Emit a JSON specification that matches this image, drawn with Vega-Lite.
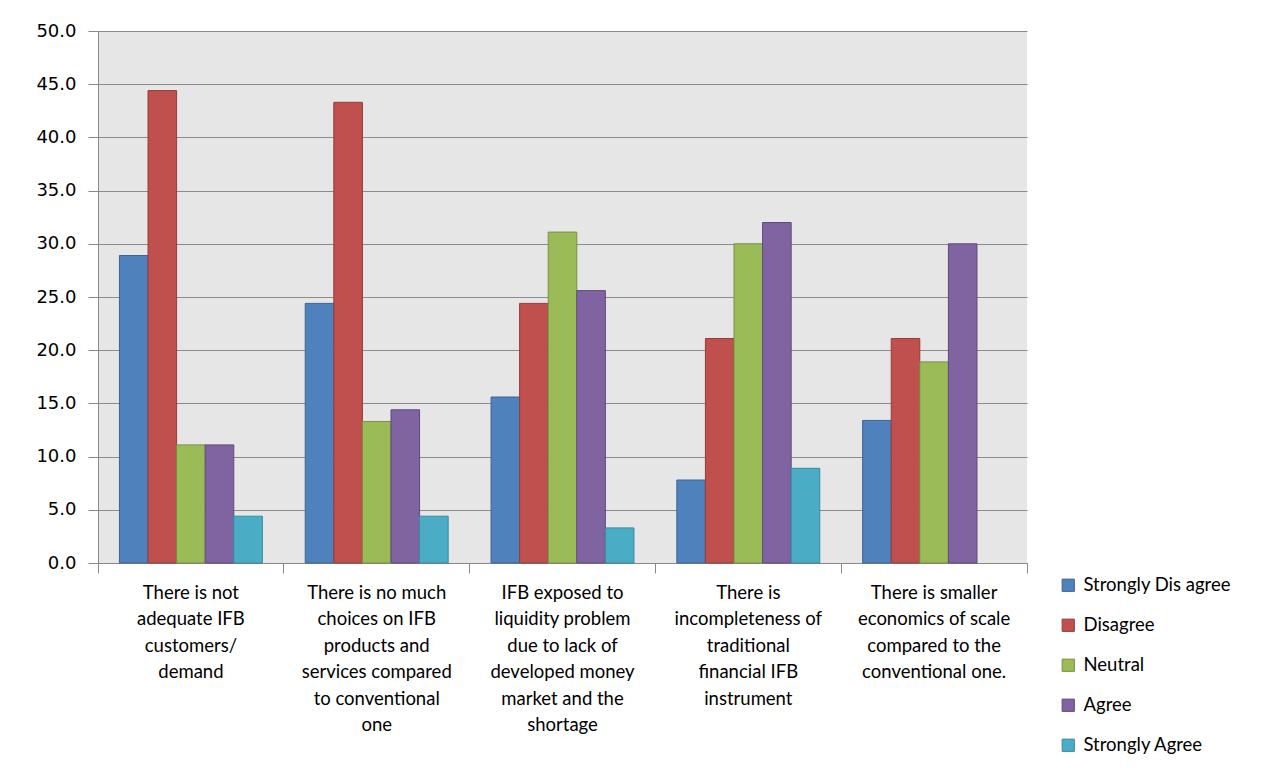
{
  "$schema": "https://vega.github.io/schema/vega-lite/v6.json",
  "autosize": "none",
  "width": 929,
  "height": 532,
  "padding": {"left": 98, "top": 31, "right": 260, "bottom": 205},
  "background": "white",
  "data": {
    "values": [
      {"statement": "There is not\nadequate IFB\ncustomers/\ndemand", "response": "Strongly Dis agree", "percent": 28.9},
      {"statement": "There is not\nadequate IFB\ncustomers/\ndemand", "response": "Disagree", "percent": 44.4},
      {"statement": "There is not\nadequate IFB\ncustomers/\ndemand", "response": "Neutral", "percent": 11.1},
      {"statement": "There is not\nadequate IFB\ncustomers/\ndemand", "response": "Agree", "percent": 11.1},
      {"statement": "There is not\nadequate IFB\ncustomers/\ndemand", "response": "Strongly Agree", "percent": 4.4},
      {"statement": "There is no much\nchoices on IFB\nproducts and\nservices compared\nto conventional\none", "response": "Strongly Dis agree", "percent": 24.4},
      {"statement": "There is no much\nchoices on IFB\nproducts and\nservices compared\nto conventional\none", "response": "Disagree", "percent": 43.3},
      {"statement": "There is no much\nchoices on IFB\nproducts and\nservices compared\nto conventional\none", "response": "Neutral", "percent": 13.3},
      {"statement": "There is no much\nchoices on IFB\nproducts and\nservices compared\nto conventional\none", "response": "Agree", "percent": 14.4},
      {"statement": "There is no much\nchoices on IFB\nproducts and\nservices compared\nto conventional\none", "response": "Strongly Agree", "percent": 4.4},
      {"statement": "IFB exposed to\nliquidity problem\ndue to lack of\ndeveloped money\nmarket and the\nshortage", "response": "Strongly Dis agree", "percent": 15.6},
      {"statement": "IFB exposed to\nliquidity problem\ndue to lack of\ndeveloped money\nmarket and the\nshortage", "response": "Disagree", "percent": 24.4},
      {"statement": "IFB exposed to\nliquidity problem\ndue to lack of\ndeveloped money\nmarket and the\nshortage", "response": "Neutral", "percent": 31.1},
      {"statement": "IFB exposed to\nliquidity problem\ndue to lack of\ndeveloped money\nmarket and the\nshortage", "response": "Agree", "percent": 25.6},
      {"statement": "IFB exposed to\nliquidity problem\ndue to lack of\ndeveloped money\nmarket and the\nshortage", "response": "Strongly Agree", "percent": 3.3},
      {"statement": "There is\nincompleteness of\ntraditional\nfinancial IFB\ninstrument", "response": "Strongly Dis agree", "percent": 7.8},
      {"statement": "There is\nincompleteness of\ntraditional\nfinancial IFB\ninstrument", "response": "Disagree", "percent": 21.1},
      {"statement": "There is\nincompleteness of\ntraditional\nfinancial IFB\ninstrument", "response": "Neutral", "percent": 30.0},
      {"statement": "There is\nincompleteness of\ntraditional\nfinancial IFB\ninstrument", "response": "Agree", "percent": 32.0},
      {"statement": "There is\nincompleteness of\ntraditional\nfinancial IFB\ninstrument", "response": "Strongly Agree", "percent": 8.9},
      {"statement": "There is smaller\neconomics of scale\ncompared to the\nconventional one.", "response": "Strongly Dis agree", "percent": 13.4},
      {"statement": "There is smaller\neconomics of scale\ncompared to the\nconventional one.", "response": "Disagree", "percent": 21.1},
      {"statement": "There is smaller\neconomics of scale\ncompared to the\nconventional one.", "response": "Neutral", "percent": 18.9},
      {"statement": "There is smaller\neconomics of scale\ncompared to the\nconventional one.", "response": "Agree", "percent": 30.0}
    ]
  },
  "layer": [
    {
      "mark": {"type": "bar", "strokeWidth": 1},
      "encoding": {
        "x": {
          "field": "statement", "type": "nominal", "sort": null,
          "scale": {"paddingInner": 0, "paddingOuter": 0},
          "axis": {
            "title": null,
            "orient": "bottom",
            "labelExpr": "split(datum.label, '\\n')",
            "labelAngle": 0,
            "labelFont": "Lato",
            "labelFontSize": 18.5,
            "labelColor": "black",
            "labelLineHeight": 26.5,
            "labelBaseline": "top",
            "labelPadding": 20,
            "labelLimit": 300,
            "ticks": false,
            "domain": false,
            "grid": false
          }
        },
        "xOffset": {
          "field": "response", "type": "nominal",
          "scale": {"domain": ["Strongly Dis agree", "Disagree", "Neutral", "Agree", "Strongly Agree"], "paddingOuter": 0.75, "paddingInner": 0}
        },
        "y": {
          "field": "percent", "type": "quantitative",
          "scale": {"domain": [0, 50], "nice": false},
          "axis": {
            "title": null,
            "values": [0, 5, 10, 15, 20, 25, 30, 35, 40, 45, 50],
            "format": ".1f",
            "labelFont": "DejaVu Sans",
            "labelFontSize": 18,
            "labelColor": "black",
            "labelPadding": 12,
            "tickSize": 10,
            "tickColor": "#888888",
            "domainColor": "#888888",
            "gridColor": "#8c8c8c",
            "gridWidth": 1,
            "gridOpacity": 1
          }
        },
        "color": {
          "field": "response", "type": "nominal",
          "scale": {"domain": ["Strongly Dis agree", "Disagree", "Neutral", "Agree", "Strongly Agree"],
                    "range": ["#4f81bd", "#c0504d", "#9bbb59", "#8064a2", "#4bacc6"]},
          "legend": {
            "title": null,
            "orient": "none",
            "legendX": 961,
            "legendY": 545,
            "symbolType": "square",
            "symbolSize": 150,
            "symbolStrokeWidth": 1,
            "symbolStrokeColor": "#555555",
            "labelFont": "Lato",
            "labelFontSize": 18.5,
            "labelColor": "black",
            "labelOffset": 6,
            "rowPadding": 21
          }
        },
        "stroke": {
          "field": "response", "type": "nominal",
          "scale": {"domain": ["Strongly Dis agree", "Disagree", "Neutral", "Agree", "Strongly Agree"],
                    "range": ["#3a6596", "#943c3a", "#77913f", "#5f4a7c", "#378ba2"]},
          "legend": null
        }
      }
    },
    {
      "mark": {"type": "rule", "opacity": 0},
      "encoding": {
        "x": {
          "field": "statement", "type": "nominal", "sort": null,
          "axis": {
            "title": null,
            "orient": "bottom",
            "labels": false,
            "bandPosition": 1,
            "tickExtra": true,
            "tickSize": 10,
            "tickColor": "#888888",
            "domainColor": "#888888",
            "grid": false
          }
        }
      }
    }
  ],
  "resolve": {"axis": {"x": "independent"}},
  "config": {
    "view": {"fill": "#e6e6e6", "stroke": null}
  }
}
